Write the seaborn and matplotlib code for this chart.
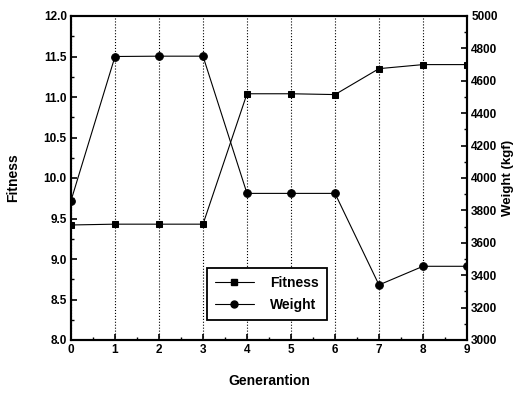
import matplotlib
matplotlib.use("Agg")
import matplotlib.pyplot as plt
import seaborn as sns
import pandas as pd
from matplotlib.ticker import MultipleLocator, FormatStrFormatter
from matplotlib.lines import Line2D

generation = [0, 1, 2, 3, 4, 5, 6, 7, 8, 9]
fitness = [9.42, 9.43, 9.43, 9.43, 11.04, 11.04, 11.03, 11.35, 11.40, 11.40]
weight = [3860, 4750, 4752, 4752, 3905, 3905, 3905, 3340, 3455, 3455]

sns.set_theme(style="ticks")
plt.rcParams['font.family'] = ['Liberation Sans Narrow', 'Liberation Sans', 'DejaVu Sans']
plt.rcParams['font.weight'] = 'bold'
for k in ('text.color', 'axes.labelcolor', 'xtick.color', 'ytick.color', 'axes.edgecolor'):
    plt.rcParams[k] = 'black'

df = pd.DataFrame({"Generation": generation, "Fitness": fitness, "Weight": weight})

fig = plt.figure(figsize=(5.15, 3.97), dpi=100)
ax = fig.add_axes([71/515, 1-340/397, (467-71)/515, (340-16)/397])
ax2 = ax.twinx()

sns.lineplot(data=df, x="Generation", y="Fitness", ax=ax, color="black", marker="s",
             markersize=5, linewidth=0.8, markeredgecolor="black")
sns.lineplot(data=df, x="Generation", y="Weight", ax=ax2, color="black", marker="o",
             markersize=5.5, linewidth=0.8, markeredgecolor="black")

ax.set_xlim(0, 9)
ax.set_ylim(8.0, 12.0)
ax2.set_ylim(3000, 5000)

ax.xaxis.set_major_locator(MultipleLocator(1))
ax.xaxis.set_minor_locator(MultipleLocator(0.5))
ax.yaxis.set_major_locator(MultipleLocator(0.5))
ax.yaxis.set_minor_locator(MultipleLocator(0.25))
ax.yaxis.set_major_formatter(FormatStrFormatter('%.1f'))
ax2.yaxis.set_major_locator(MultipleLocator(200))
ax2.yaxis.set_minor_locator(MultipleLocator(100))

for a in (ax, ax2):
    a.tick_params(which='major', direction='in', length=4, width=1.2, labelsize=8.5, pad=3,
                  colors='black')
    a.tick_params(which='minor', direction='in', length=2.5, width=1.0, colors='black')
    for s in a.spines.values():
        s.set_linewidth(1.5)
        s.set_color('black')

ax.grid(axis='x', which='major', linestyle=':', color='black', linewidth=0.8)

ax.set_xlabel("Generantion", fontsize=10, fontweight='bold', labelpad=13, color='black')
ax.set_ylabel("Fitness", fontsize=10, fontweight='bold', labelpad=17, color='black')
ax2.set_ylabel("Weight (kgf)", fontsize=9.5, fontweight='bold', labelpad=3, color='black')

handles = [Line2D([], [], color='black', marker='s', markersize=5, linewidth=0.8, label='Fitness'),
           Line2D([], [], color='black', marker='o', markersize=5, linewidth=0.8, label='Weight')]
leg = ax.legend(handles=handles, loc='upper left',
                bbox_to_anchor=((207-71)/396, (340-268)/324),
                fancybox=False, edgecolor='black', framealpha=1, fontsize=10,
                handlelength=2.8, handletextpad=1.2, borderpad=0.55, labelspacing=0.6,
                borderaxespad=0)
leg.get_frame().set_linewidth(1.3)
for t in leg.get_texts():
    t.set_color('black')

fig.savefig("out.png", dpi=100)
